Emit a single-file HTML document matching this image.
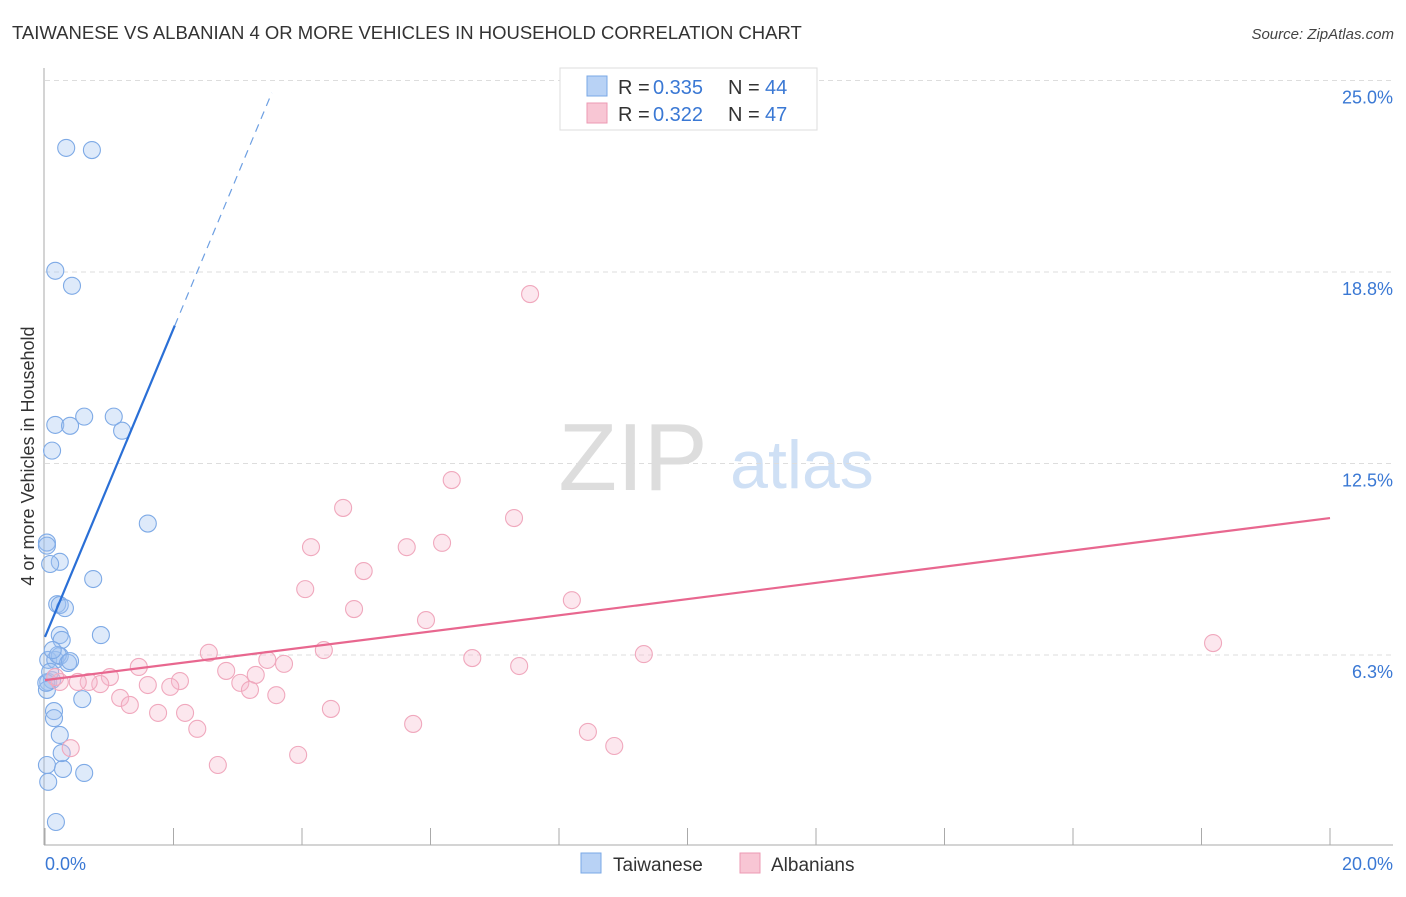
<!DOCTYPE html>
<html><head><meta charset="utf-8"><style>
body{margin:0;background:#fff;}
svg text{font-family:"Liberation Sans",sans-serif;}
</style></head><body>
<svg id="chart" width="1406" height="892" viewBox="0 0 1406 892" xmlns="http://www.w3.org/2000/svg">
<text x="12" y="39" font-size="18.5" fill="#333">TAIWANESE VS ALBANIAN 4 OR MORE VEHICLES IN HOUSEHOLD CORRELATION CHART</text>
<text x="1394" y="39" font-size="15" fill="#444" text-anchor="end" font-style="italic">Source: ZipAtlas.com</text>
<g>
<text x="633" y="490" font-size="96" fill="#ddd" text-anchor="middle" font-family="Liberation Serif,serif">ZIP</text>
<text x="802" y="488" font-size="68" fill="#cfe0f5" text-anchor="middle">atlas</text>
</g>
<g id="grid"></g>
<g id="axes"></g>
<g id="marks"></g>
<text transform="translate(34,456) rotate(-90)" font-size="18" fill="#333" text-anchor="middle">4 or more Vehicles in Household</text>
<g>
<rect x="560" y="68" width="257" height="62" fill="#fff" stroke="#ddd"/>
<rect x="587" y="76" width="20" height="20" fill="#b8d2f5" stroke="#7aa8e6"/>
<rect x="587" y="103" width="20" height="20" fill="#f8c6d4" stroke="#ec9ab3"/>
<text x="618" y="94" font-size="20" fill="#333">R =</text>
<text x="653" y="94" font-size="20" fill="#3a78d4">0.335</text>
<text x="728" y="94" font-size="20" fill="#333">N =</text>
<text x="765" y="94" font-size="20" fill="#3a78d4">44</text>
<text x="618" y="121" font-size="20" fill="#333">R =</text>
<text x="653" y="121" font-size="20" fill="#3a78d4">0.322</text>
<text x="728" y="121" font-size="20" fill="#333">N =</text>
<text x="765" y="121" font-size="20" fill="#3a78d4">47</text>
</g>
<g>
<rect x="581" y="853" width="20" height="20" fill="#b8d2f5" stroke="#7aa8e6"/>
<text x="613" y="871" font-size="19" fill="#333">Taiwanese</text>
<rect x="740" y="853" width="20" height="20" fill="#f8c6d4" stroke="#ec9ab3"/>
<text x="771" y="871" font-size="19" fill="#333">Albanians</text>
</g>
</svg>
<script>
const yTicks=[25.0,18.8,12.5,6.3];
const yTickValues=[25,18.75,12.5,6.25];
const xTickLabels=["0.0%","20.0%"];
const taiwaneseX=[.33,.73,.16,.42,.61,1.07,.16,.39,1.20,.11,1.60,.03,.03,.23,.08,.75,.19,.23,.31,.87,.23,.26,.05,.16,.23,.20,.36,.05,.11,.03,.58,.14,.14,.23,.03,.28,.61,.05,.26,.17,.39,.02,.08,.12];
const taiwaneseY=[22.80,22.73,18.79,18.30,14.03,14.03,13.76,13.73,13.57,12.92,10.54,9.92,9.82,9.29,9.22,8.73,7.91,7.88,7.78,6.90,6.90,6.74,6.09,6.09,6.22,6.25,5.99,5.37,5.43,5.11,4.81,4.42,4.19,3.64,2.66,2.53,2.40,2.11,3.05,.80,6.05,5.34,5.70,6.41];
const albanianX=[7.55,6.33,4.64,7.30,4.14,5.63,6.18,4.96,4.05,4.81,8.20,5.93,18.18,2.55,4.34,6.65,9.32,3.46,3.72,7.38,1.46,2.82,3.28,1.01,2.10,1.60,1.95,3.04,3.19,.86,.68,.51,.23,.16,1.17,1.32,3.60,1.76,2.18,4.45,2.37,5.73,8.45,8.86,.40,3.94,2.69];
const albanianY=[18.03,11.96,11.05,10.72,9.77,9.77,9.91,8.99,8.40,7.75,8.04,7.39,6.64,6.32,6.41,6.15,6.28,6.09,5.96,5.89,5.86,5.73,5.60,5.53,5.40,5.27,5.21,5.34,5.11,5.30,5.37,5.37,5.37,5.53,4.85,4.62,4.94,4.36,4.36,4.49,3.84,4.00,3.74,3.28,3.21,2.99,2.66];
const taiwaneseTrend=[6.84,5.03,2.02,3.53];
const albanianTrend=[5.43,0.2645];

const NS="http://www.w3.org/2000/svg";
const sx=v=>45+v*64.25, sy=v=>846.5-v*30.64;
function mk(tag,attrs,parent){const e=document.createElementNS(NS,tag);for(const k in attrs)e.setAttribute(k,attrs[k]);document.getElementById(parent).appendChild(e);return e;}
yTickValues.forEach((v,i)=>{
 const g=mk('line',{x1:45,x2:1393,y1:sy(v),y2:sy(v),stroke:'#ddd','stroke-dasharray':'5,4'},'grid');
 
 
 const t=mk('text',{x:1393,y:sy(v)+23,'font-size':18,fill:'#3a78d4','text-anchor':'end'},'grid');
 t.textContent=yTicks[i].toFixed(1)+'%';
 
 
});
let a=mk('line',{x1:44,x2:44,y1:68,y2:845,stroke:'#aaa'},'axes');


a=mk('line',{x1:44,x2:1393,y1:845,y2:845,stroke:'#aaa'},'axes');


for(let i=0;i<=10;i++){const t=mk('line',{x1:sx(i*2),x2:sx(i*2),y1:828,y2:845,stroke:'#aaa'},'axes');
 
 }
[[0,'start',45],[20,'end',1393]].forEach((d,i)=>{const t=mk('text',{x:d[2],y:870,'font-size':18,fill:'#3a78d4','text-anchor':d[1]},'axes');t.textContent=xTickLabels[i];
 
 });
taiwaneseX.forEach((x,i)=>{const c=mk('circle',{cx:sx(x),cy:sy(taiwaneseY[i]),r:8.5,fill:'rgba(160,195,240,0.35)',stroke:'#7eaae6','stroke-width':1.1},'marks');
 
 });
albanianX.forEach((x,i)=>{const c=mk('circle',{cx:sx(x),cy:sy(albanianY[i]),r:8.5,fill:'rgba(246,185,205,0.35)',stroke:'#f0a8bd','stroke-width':1.1},'marks');
 
 });
const [ti,ts,te,td]=taiwaneseTrend;
let l=mk('line',{x1:sx(0),y1:sy(ti),x2:sx(te),y2:sy(ti+ts*te),stroke:'#2a6fd6','stroke-width':2.2},'marks');


l=mk('line',{x1:sx(te),y1:sy(ti+ts*te),x2:sx(td),y2:sy(ti+ts*td),stroke:'#6d9fe2','stroke-width':1.2,'stroke-dasharray':'8,6'},'marks');


l=mk('line',{x1:sx(0),y1:sy(albanianTrend[0]),x2:sx(20),y2:sy(albanianTrend[0]+albanianTrend[1]*20),stroke:'#e8678f','stroke-width':2.2},'marks');


</script>
</body></html>
